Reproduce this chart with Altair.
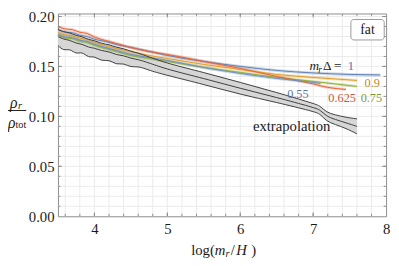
import altair as alt
import pandas as pd

SERIF = "Liberation Serif"

# ---------------- data ----------------
X_GRID = [3.6, 3.8, 4.0, 4.2, 4.4, 4.6, 4.8, 5.0, 5.2, 5.4, 5.6, 5.8, 6.0, 6.2, 6.4,
          6.6, 6.8, 7.0, 7.2, 7.4, 7.6, 7.8]
Y_GRID = [0.01, 0.02, 0.03, 0.04, 0.05, 0.06, 0.07, 0.08, 0.09, 0.10, 0.11, 0.12,
          0.13, 0.14, 0.15, 0.16, 0.17, 0.18, 0.19, 0.20]
X_MAJOR = [4, 5, 6, 7]
Y_MAJOR = [0.05, 0.10, 0.15, 0.20]
X_LABELS = [4, 5, 6, 7, 8]
Y_LABELS = [0.0, 0.05, 0.10, 0.15, 0.20]

# extrapolation band (upper, middle, lower)
ext_x = [3.5, 3.58, 3.66, 3.75, 3.83, 3.92, 4.0, 4.1, 4.2, 4.3, 4.4, 4.5, 4.6, 4.75,
         5.0, 5.5, 6.0, 6.5, 7.0, 7.1, 7.18, 7.3, 7.45, 7.6]
ext_hi = [0.187, 0.1845, 0.1838, 0.1808, 0.1800, 0.1768, 0.1760, 0.1728, 0.1720, 0.1690,
          0.1680, 0.1650, 0.1635, 0.1595, 0.153, 0.144, 0.134, 0.124, 0.113, 0.1105, 0.104,
          0.1015, 0.099, 0.0975]
ext_mid = [0.180, 0.1770, 0.1765, 0.1730, 0.1725, 0.1690, 0.1685, 0.1655, 0.1650, 0.1615,
           0.1610, 0.1580, 0.1570, 0.1535, 0.147, 0.138, 0.128, 0.119, 0.109, 0.1065, 0.100,
           0.097, 0.0935, 0.090]
ext_lo = [0.171, 0.1655, 0.1680, 0.1620, 0.1650, 0.1585, 0.1605, 0.1550, 0.1570, 0.1515,
          0.1535, 0.1488, 0.1505, 0.1460, 0.141, 0.132, 0.122, 0.114, 0.105, 0.1025, 0.095,
          0.092, 0.088, 0.0825]

series_names = ["1", "0.9", "0.75", "0.625", "0.55"]
series_colors = ["#5e81b5", "#e19c24", "#8fb032", "#eb6235", "#6f8fc6"]
label_colors = ["#5b78ad", "#c08b2c", "#7f9c36", "#c4593a", "#5b78ad"]

x_1 = [3.5, 3.6, 3.7, 3.8, 3.9, 4.0, 4.15, 4.3, 4.5, 4.75, 5.0, 5.5, 6.0, 6.5, 7.0, 7.5, 7.92]
y_1 = [0.187, 0.1845, 0.1838, 0.1812, 0.1800, 0.1772, 0.175, 0.172, 0.169, 0.165, 0.161, 0.155,
       0.150, 0.146, 0.1435, 0.142, 0.1415]
x_09 = [3.5, 3.6, 3.7, 3.8, 3.9, 4.0, 4.15, 4.3, 4.5, 4.75, 5.0, 5.5, 6.0, 6.5, 7.0, 7.3, 7.6]
y_09 = [0.184, 0.1815, 0.1808, 0.1782, 0.1770, 0.1742, 0.171, 0.168, 0.165, 0.161, 0.158, 0.152,
        0.147, 0.142, 0.139, 0.1375, 0.136]
x_075 = [3.5, 3.6, 3.7, 3.8, 3.9, 4.0, 4.15, 4.3, 4.5, 4.75, 5.0, 5.5, 6.0, 6.5, 7.0, 7.3, 7.6]
y_075 = [0.181, 0.1785, 0.1778, 0.1752, 0.1740, 0.1712, 0.168, 0.165, 0.161, 0.158, 0.155, 0.149,
         0.144, 0.139, 0.135, 0.1325, 0.130]
x_0625 = [3.5, 3.6, 3.7, 3.8, 3.9, 4.0, 4.15, 4.3, 4.5, 4.75, 5.0, 5.5, 6.0, 6.5, 7.0, 7.2, 7.45]
y_0625 = [0.190, 0.1875, 0.1868, 0.1842, 0.1830, 0.1795, 0.176, 0.173, 0.169, 0.165, 0.162, 0.155,
          0.148, 0.140, 0.1325, 0.129, 0.127]
x_055 = [3.5, 3.6, 3.7, 3.8, 3.9, 4.0, 4.15, 4.3, 4.5, 4.75, 5.0, 5.5, 6.0, 6.5, 7.0, 7.1]
y_055 = [0.182, 0.1795, 0.1788, 0.1762, 0.1750, 0.1722, 0.169, 0.166, 0.162, 0.159, 0.156, 0.149,
         0.143, 0.138, 0.134, 0.133]

# ---------------- tables ----------------
series_x = [x_1, x_09, x_075, x_0625, x_055]
series_y = [y_1, y_09, y_075, y_0625, y_055]
rows = []
for name, xs_, ys_ in zip(series_names, series_x, series_y):
    for i, (a, b) in enumerate(zip(xs_, ys_)):
        rows.append({"s": name, "x": a, "y": b, "i": i})
df_col = pd.DataFrame(rows)

df_ext = pd.DataFrame({"x": ext_x, "hi": ext_hi, "mid": ext_mid, "lo": ext_lo})
df_ext_long = pd.concat([
    pd.DataFrame({"x": ext_x, "y": ext_hi, "k": "hi"}),
    pd.DataFrame({"x": ext_x, "y": ext_mid, "k": "mid"}),
    pd.DataFrame({"x": ext_x, "y": ext_lo, "k": "lo"}),
])

xs = alt.Scale(domain=[3.5, 8], nice=False, zero=False)
ys = alt.Scale(domain=[0, 0.203], nice=False, zero=False)
ax_x = alt.Axis(values=X_LABELS, title=None, grid=False, ticks=False, domain=False,
                labelFont=SERIF, labelFontSize=15, labelColor="#1a1a1a",
                labelPadding=6, labelFlush=False, labelOverlap=False, format="d")
ax_y = alt.Axis(values=Y_LABELS, title=None, grid=False, ticks=False, domain=False,
                labelFont=SERIF, labelFontSize=15, labelColor="#1a1a1a",
                labelPadding=4, labelFlush=False, labelOverlap=False, format=".2f")


def X(f="x"):
    return alt.X(f"{f}:Q", scale=xs, axis=ax_x)


def Y(f="y"):
    return alt.Y(f"{f}:Q", scale=ys, axis=ax_y)


grid_x = alt.Chart(pd.DataFrame({"x": X_GRID})).mark_rule(color="#ebebeb", strokeWidth=1).encode(x=X())
grid_y = alt.Chart(pd.DataFrame({"y": Y_GRID})).mark_rule(color="#ebebeb", strokeWidth=1).encode(y=Y())

ext_area = alt.Chart(df_ext).mark_area(color="#d6d6d6", opacity=1, interpolate="basis").encode(
    x=X(), y=Y("hi"), y2="lo:Q")

col_scale = alt.Scale(domain=series_names, range=series_colors)
col_thick = alt.Chart(df_col).mark_line(strokeWidth=3.0, opacity=0.3, interpolate="monotone").encode(
    x=X(), y=Y(), color=alt.Color("s:N", scale=col_scale, legend=None),
    detail="s:N", order="i:Q")
col_thin = alt.Chart(df_col).mark_line(strokeWidth=1.0, interpolate="monotone").encode(
    x=X(), y=Y(), color=alt.Color("s:N", scale=col_scale, legend=None),
    detail="s:N", order="i:Q")

ext_lines = alt.Chart(df_ext_long).mark_line(color="#3c3c3c", strokeWidth=1, interpolate="basis").encode(
    x=X(), y=Y(), detail="k:N")

# frame ticks (inward)
TC = "#8c8c8c"
xmin_df = pd.DataFrame({"x": X_GRID})
xmaj_df = pd.DataFrame({"x": X_MAJOR})
ymin_df = pd.DataFrame({"y": Y_GRID})
ymaj_df = pd.DataFrame({"y": Y_MAJOR})
ticks = [
    alt.Chart(xmin_df).mark_rule(color=TC).encode(x=X(), y=alt.value(207), y2=alt.value(204.5)),
    alt.Chart(xmaj_df).mark_rule(color=TC).encode(x=X(), y=alt.value(207), y2=alt.value(203)),
    alt.Chart(xmin_df).mark_rule(color=TC).encode(x=X(), y=alt.value(0), y2=alt.value(2.5)),
    alt.Chart(xmaj_df).mark_rule(color=TC).encode(x=X(), y=alt.value(0), y2=alt.value(4)),
    alt.Chart(ymin_df).mark_rule(color=TC).encode(y=Y(), x=alt.value(0), x2=alt.value(2.5)),
    alt.Chart(ymaj_df).mark_rule(color=TC).encode(y=Y(), x=alt.value(0), x2=alt.value(4)),
    alt.Chart(ymin_df).mark_rule(color=TC).encode(y=Y(), x=alt.value(335), x2=alt.value(332.5)),
    alt.Chart(ymaj_df).mark_rule(color=TC).encode(y=Y(), x=alt.value(335), x2=alt.value(331)),
]


def txt(x, y, t, align="left", **kw):
    d = pd.DataFrame({"x": [x], "y": [y], "t": [t]})
    return alt.Chart(d).mark_text(font=SERIF, align=align, baseline="middle", **kw).encode(
        x=X(), y=Y(), text="t:N")


labels = [
    txt(6.950, 0.1500, "m", fontSize=13.5, fontStyle="italic", color="#1a1a1a"),
    txt(7.070, 0.1466, "r", fontSize=9.5, fontStyle="italic", color="#1a1a1a"),
    txt(7.135, 0.1500, "Δ =", fontSize=13.5, color="#1a1a1a"),
    txt(7.470, 0.1500, "1", fontSize=13.5, color=label_colors[0]),
    txt(7.705, 0.1333, "0.9", fontSize=12.5, color=label_colors[1]),
    txt(7.651, 0.1186, "0.75", fontSize=12.5, color=label_colors[2]),
    txt(7.208, 0.1186, "0.625", fontSize=12.5, color=label_colors[3]),
    txt(6.643, 0.1225, "0.55", fontSize=12.5, color=label_colors[4]),
    txt(6.173, 0.0902, "extrapolation", fontSize=15, color="#1a1a1a"),
    # x-axis title: log(m_r/H)
    txt(5.327, -0.0343, "log(", fontSize=15, color="#1a1a1a"),
    txt(5.649, -0.0343, "m", fontSize=15, fontStyle="italic", color="#1a1a1a"),
    txt(5.797, -0.0382, "r", fontSize=10.5, fontStyle="italic", color="#1a1a1a"),
    txt(5.870, -0.0343, "/", fontSize=15, color="#1a1a1a"),
    txt(5.945, -0.0343, "H", fontSize=15, fontStyle="italic", color="#1a1a1a"),
    txt(6.150, -0.0343, ")", fontSize=15, color="#1a1a1a"),
    # y-axis title: rho_r / rho_tot
    txt(2.895, 0.1137, "ρ", align="center", fontSize=16, fontStyle="italic", color="#1a1a1a"),
    txt(2.952, 0.1103, "r", fontSize=10.5, fontStyle="italic", color="#1a1a1a"),
    txt(2.868, 0.0935, "ρ", align="center", fontSize=16, fontStyle="italic", color="#1a1a1a"),
    txt(2.918, 0.0912, "tot", fontSize=10.5, color="#1a1a1a"),
    txt(7.745, 0.1868, "fat", align="center", fontSize=14, color="#1a1a1a"),
]

frac_bar = alt.Chart(pd.DataFrame({"x": [2.808], "x2": [3.065], "y": [0.1059]})).mark_rule(
    color="#1a1a1a", strokeWidth=1).encode(x=X(), x2="x2:Q", y=Y())

box = alt.Chart(pd.DataFrame({"x": [7.517], "x2": [7.974], "y": [0.1970], "y2": [0.1765]})).mark_rect(
    fill="white", stroke="#9a9a9a", strokeWidth=1, cornerRadius=3).encode(
    x=X(), x2="x2:Q", y=Y(), y2="y2:Q")

chart = alt.layer(
    grid_x, grid_y, ext_area, col_thick, col_thin, ext_lines, *ticks, frac_bar, box, *labels
).properties(
    width=335, height=207,
    padding={"left": 51, "top": 3, "right": 5, "bottom": 40},
    autosize=alt.AutoSizeParams(type="none"),
).configure(font=SERIF).configure_view(stroke="#8c8c8c", strokeWidth=1).configure_axis(
    labelFont=SERIF, labelFontSize=15, labelColor="#1a1a1a"
)

chart.save("out.html", embed_options={"renderer": "svg", "actions": False})
